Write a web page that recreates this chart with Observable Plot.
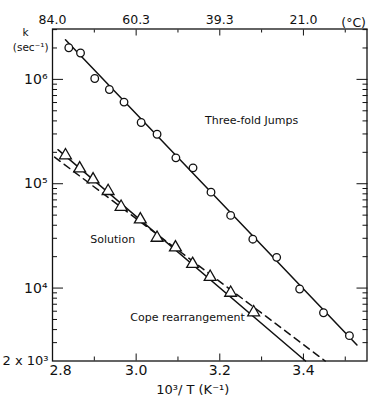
<!DOCTYPE html>
<html><head><meta charset="utf-8">
<script src="https://cdn.jsdelivr.net/npm/d3@7"></script>
<script src="https://cdn.jsdelivr.net/npm/@observablehq/plot@0.6"></script>
<style>
body{margin:0;background:#fff;}
#chart{position:relative;width:369px;height:399px;}
#chart svg{display:block;}
</style></head><body><div id="chart"></div>
<script>
// Three-fold jumps (circles)
const jumpX = [2.839, 2.867, 2.901, 2.936, 2.971, 3.012, 3.050, 3.095, 3.136, 3.179, 3.226, 3.279, 3.336, 3.391, 3.448, 3.510];
const jumpK = [2.01e6, 1.79e6, 1.02e6, 8.0e5, 6.06e5, 3.86e5, 2.98e5, 1.77e5, 1.42e5, 8.3e4, 4.97e4, 2.94e4, 1.97e4, 9.8e3, 5.8e3, 3.5e3];
// Cope rearrangement (triangles)
const copeX = [2.831, 2.865, 2.897, 2.933, 2.964, 3.010, 3.050, 3.094, 3.135, 3.177, 3.226, 3.281];
const copeK = [1.87e5, 1.40e5, 1.10e5, 8.5e4, 6.0e4, 4.54e4, 3.03e4, 2.45e4, 1.70e4, 1.28e4, 9.0e3, 5.85e3];
// Fitted lines (end points)
const jumpFitX = [2.831, 3.528];
const jumpFitK = [2.40e6, 2.85e3];
const copeFitX = [2.813, 3.405];
const copeFitK = [2.12e5, 2.0e3];
const solutionFitX = [2.805, 3.452];
const solutionFitK = [1.80e5, 2.0e3];
// Axes
const bottomTicks = [3.0, 3.2, 3.4];
const bottomLabels = ["3.0", "3.2", "3.4"];
const firstTick = [2.8];
const firstLabel = ["2.8"];
const topTicks = [2.8, 3.0, 3.2, 3.4];
const topLabels = ["84.0", "60.3", "39.3", "21.0"];
const minorX = [2.9, 3.1, 3.3, 3.5];
const majorK = [1e4, 1e5, 1e6];
const majorKLabels = ["10⁴", "10⁵", "10⁶"];
const minorK = [3e3,4e3,5e3,6e3,7e3,8e3,9e3,2e4,3e4,4e4,5e4,6e4,7e4,8e4,9e4,2e5,3e5,4e5,5e5,6e5,7e5,8e5,9e5,2e6,3e6];
const baseK = [2e3];
const baseKLabel = ["2 x 10³"];

const jumps = jumpX.map((x, i) => ({x, k: jumpK[i]}));
const cope = copeX.map((x, i) => ({x, k: copeK[i]}));
const jumpFit = jumpFitX.map((x, i) => ({x, k: jumpFitK[i]}));
const copeFit = copeFitX.map((x, i) => ({x, k: copeFitK[i]}));
const solFit = solutionFitX.map((x, i) => ({x, k: solutionFitK[i]}));

const font = "DejaVu Sans, sans-serif";
const chart = Plot.plot({
  width: 369, height: 399,
  marginLeft: 52, marginRight: 2.5, marginTop: 28.5, marginBottom: 38.5,
  style: {fontFamily: font, fontSize: "13px", color: "#111", background: "#fff"},
  x: {domain: [2.8, 3.552], axis: null},
  y: {type: "log", domain: [2e3, 3.04e6], axis: null},
  marks: [
    Plot.line(jumpFit, {x: "x", y: "k", stroke: "#111", strokeWidth: 1.5}),
    Plot.line(copeFit, {x: "x", y: "k", stroke: "#111", strokeWidth: 1.5}),
    Plot.line(solFit, {x: "x", y: "k", stroke: "#111", strokeWidth: 1.5, strokeDasharray: "7,5"}),
    Plot.dot(jumps, {x: "x", y: "k", r: 3.8, stroke: "#111", fill: "white", strokeWidth: 1.3}),
    Plot.dot(cope, {x: "x", y: "k", symbol: "triangle", r: 4.4, stroke: "#111", fill: "white", strokeWidth: 1.3}),
    // bottom axis
    Plot.axisX(bottomTicks, {anchor: "bottom", tickSize: -7, tickPadding: 11, fontSize: 14, letterSpacing: "1px", tickFormat: d => bottomLabels[bottomTicks.indexOf(d)], label: null}),
    Plot.axisX(minorX, {anchor: "bottom", tickSize: -4, tickFormat: () => "", label: null}),
    Plot.axisX(firstTick, {anchor: "bottom", tickSize: 0, tickPadding: 4, dx: 8, fontSize: 14, letterSpacing: "1px", tickFormat: d => firstLabel[0], label: null}),
    // top axis
    Plot.axisX(topTicks, {anchor: "top", tickSize: -6, tickPadding: 11, fontSize: 12.5, letterSpacing: "0.5px", tickFormat: d => topLabels[topTicks.indexOf(d)], label: null}),
    Plot.axisX(minorX, {anchor: "top", tickSize: -3, tickFormat: () => "", label: null}),
    // left axis
    Plot.axisY(majorK, {anchor: "left", tickSize: -11, tickPadding: 16, fontSize: 14, tickFormat: d => majorKLabels[majorK.indexOf(d)], label: null}),
    Plot.axisY(minorK, {anchor: "left", tickSize: -5, tickFormat: () => "", label: null}),
    Plot.axisY(baseK, {anchor: "left", tickSize: 0, tickPadding: 4, fontSize: 13, tickFormat: () => baseKLabel[0], label: null}),
    // right axis
    Plot.axisY(majorK, {anchor: "right", tickSize: -11, tickFormat: () => "", label: null}),
    Plot.axisY(minorK, {anchor: "right", tickSize: -5, tickFormat: () => "", label: null}),
    Plot.frame({stroke: "#111", strokeWidth: 1.3}),
    // annotations
    Plot.text(["Three-fold Jumps"], {x: 3.276, y: 4.06e5, fontSize: 11, fill: "#111"}),
    Plot.text(["Solution"], {x: 2.944, y: 2.94e4, fontSize: 11, fill: "#111"}),
    Plot.text(["Cope rearrangement"], {x: 3.123, y: 5.27e3, fontSize: 11, fill: "#111"}),
    Plot.text(["(°C)"], {frameAnchor: "top-right", dx: -1, dy: -11, textAnchor: "end", fontSize: 12.5, fill: "#111"}),
    Plot.text(["k"], {frameAnchor: "top-left", dx: -30, dy: 0, fontSize: 10.5, fill: "#111"}),
    Plot.text(["(sec⁻¹)"], {frameAnchor: "top-left", dx: -4, dy: 15, textAnchor: "end", fontSize: 10.5, fill: "#111"}),
    Plot.text(["10³/ T (K⁻¹)"], {frameAnchor: "bottom", dx: -17, dy: 33, fontSize: 13, letterSpacing: "1px", fill: "#111"})
  ]
});
document.getElementById("chart").appendChild(chart);
</script>
</body></html>
